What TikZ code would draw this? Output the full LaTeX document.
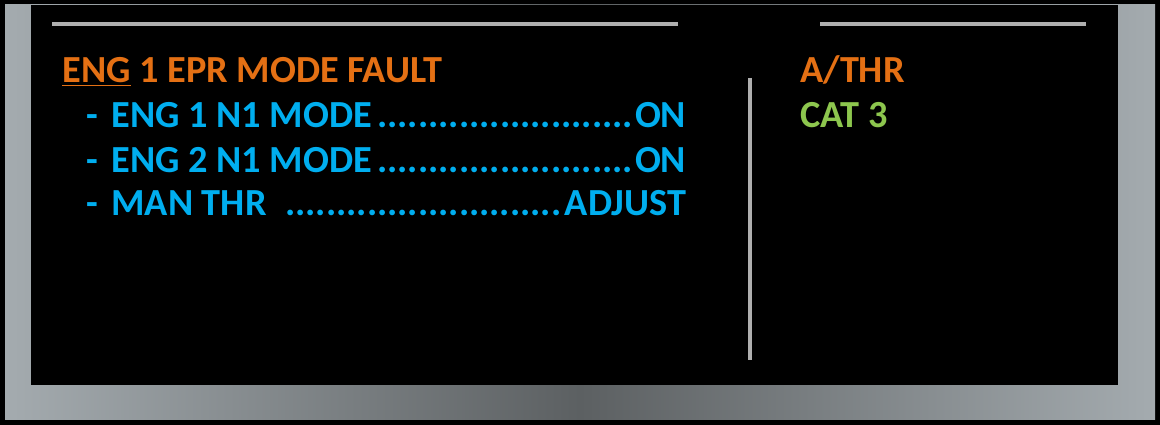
\documentclass[tikz,border=0pt]{standalone}
\usepackage{fontspec}
\setmainfont{Carlito}
\definecolor{ecamorange}{RGB}{228,112,20}
\definecolor{ecamcyan}{RGB}{0,174,239}
\definecolor{ecamgreen}{RGB}{141,198,78}
\definecolor{frameedge}{RGB}{164,171,175}
\definecolor{framemid}{RGB}{92,96,98}
\definecolor{ruleline}{RGB}{175,175,175}
\newcommand{\dotline}[2]{\makebox[11.5cm][s]{#1\leaders\hbox{.}\hfill #2}}
\tikzset{
  ecam/.style={anchor=base west,inner sep=0pt,font=\bfseries\fontsize{21.8}{26}\selectfont},
  sepline/.style={draw=ruleline,line width=2pt}
}
\begin{document}
\begin{tikzpicture}[x=0.02cm,y=-0.02cm]
\useasboundingbox(0,0)rectangle(1160,425);
\fill[black](0,0)rectangle(1160,425);
\shade[left color=frameedge,right color=frameedge,middle color=framemid](5,5)rectangle(1155,420);
\fill[black](31,5)rectangle(1118,385);
% separators
\draw[sepline](52,24)--(678,24);
\draw[sepline](820,24)--(1086,24);
\draw[sepline](750,78)--(750,360);
% warning
\node[ecam,text=ecamorange](title)at(62,83){\underline{ENG} 1 EPR MODE FAULT};
\foreach \n/\y/\l/\r in {1/128/ENG 1 N1 MODE/ON,2/173/ENG 2 N1 MODE/ON,3/216/MAN THR /ADJUST}{
  \node[ecam,text=ecamcyan](dash\n)at(86,\y){-};
  \node[ecam,text=ecamcyan](act\n)at(111,\y){\dotline{\l}{\r}};
}
% status
\node[ecam,text=ecamorange](athr)at(800,83){A/THR};
\node[ecam,text=ecamgreen](cat)at(800,128){CAT 3};
\end{tikzpicture}
\end{document}
